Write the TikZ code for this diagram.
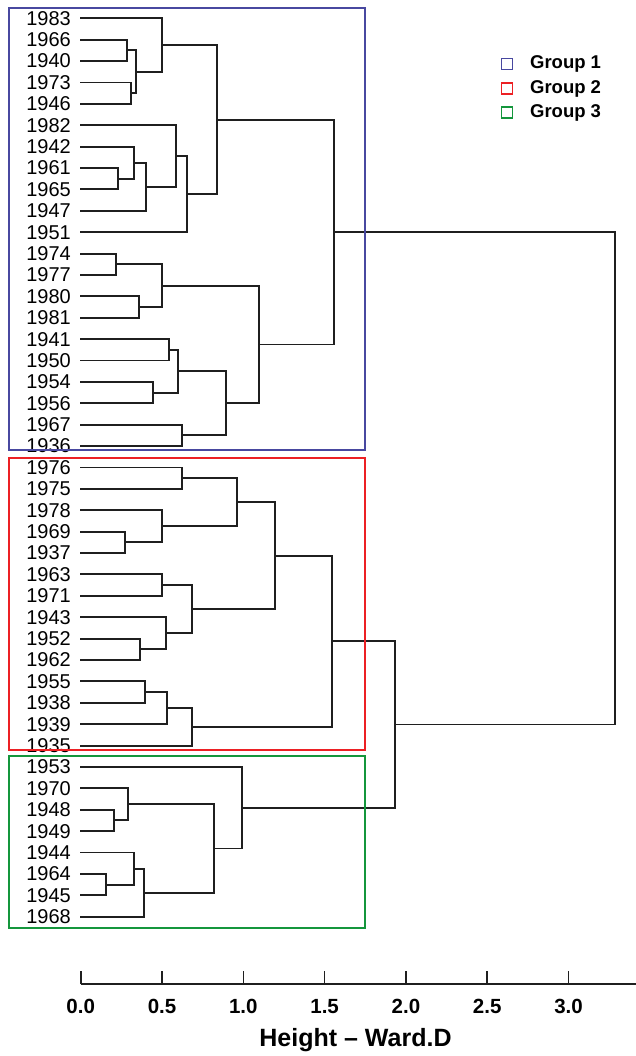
\documentclass[tikz,border=0pt]{standalone}
\usepackage{fontspec}
\setmainfont{Liberation Sans}
\usetikzlibrary{calc,positioning}

\definecolor{groupblue}{RGB}{72,72,160}
\definecolor{groupred}{RGB}{236,32,36}
\definecolor{groupgreen}{RGB}{20,150,60}

\tikzset{
  leaf/.style={anchor=east, inner xsep=9pt, inner ysep=0pt, font=\fontsize{20}{24}\selectfont},
  branch/.style={draw=black!88, line width=1.9pt},
  groupbox/.style={line width=2pt},
  legendkey/.style={draw, line width=1.4pt, minimum size=11pt, inner sep=0pt},
  legendtext/.style={anchor=west, inner sep=0pt, font=\fontsize{18.5}{22}\selectfont\bfseries},
  ticklabel/.style={inner sep=0pt, font=\fontsize{20.5}{24}\selectfont\bfseries},
  axistitle/.style={inner sep=0pt, font=\fontsize{25}{29}\selectfont\bfseries},
  axisline/.style={draw=black!88, line width=1.6pt},
}

% height -> x position
\newcommand\hx[1]{80.7+162.6*#1}
% leaf index -> y position
\newcommand\ly[1]{18.3+21.39*#1}
% join two clusters at a height
\newcommand\merge[4]{%
  \coordinate (#1mid) at ($(#2)!0.5!(#3)$);
  \coordinate (#1hgt) at ({\hx{#4}},0);
  \coordinate (#1) at (#1mid -| #1hgt);
  \draw[branch] (#2) -| (#1) |- (#3);}

\begin{document}
\begin{tikzpicture}[x=1pt, y=-1pt]
  \useasboundingbox (0,0) rectangle (636,1056);
  % Leaves
  \foreach \yr [count=\i from 0] in {1983,1966,1940,1973,1946,1982,1942,1961,1965,1947,1951,
      1974,1977,1980,1981,1941,1950,1954,1956,1967,1936,
      1976,1975,1978,1969,1937,1963,1971,1943,1952,1962,1955,1938,1939,1935,
      1953,1970,1948,1949,1944,1964,1945,1968}
    \node[leaf] (l\yr) at (80,{\ly{\i}}) {\yr};
  % Group 1
  \merge{a1}{l1966}{l1940}{0.287}
  \merge{a2}{l1973}{l1946}{0.307}
  \merge{a3}{a1}{a2}{0.338}
  \merge{a4}{l1983}{a3}{0.502}
  \merge{a5}{l1961}{l1965}{0.231}
  \merge{a6}{l1942}{a5}{0.328}
  \merge{a7}{a6}{l1947}{0.402}
  \merge{a8}{l1982}{a7}{0.586}
  \merge{a9}{a8}{l1951}{0.656}
  \merge{a10}{a4}{a9}{0.840}
  \merge{b1}{l1974}{l1977}{0.215}
  \merge{b2}{l1980}{l1981}{0.359}
  \merge{b3}{b1}{b2}{0.502}
  \merge{b4}{l1941}{l1950}{0.543}
  \merge{b5}{l1954}{l1956}{0.447}
  \merge{b6}{b4}{b5}{0.597}
  \merge{b7}{l1967}{l1936}{0.621}
  \merge{b8}{b6}{b7}{0.892}
  \merge{b9}{b3}{b8}{1.098}
  \merge{g1}{a10}{b9}{1.560}
  % Group 2
  \merge{c1}{l1976}{l1975}{0.625}
  \merge{c2}{l1969}{l1937}{0.272}
  \merge{c3}{l1978}{c2}{0.502}
  \merge{c4}{c1}{c3}{0.963}
  \merge{c5}{l1963}{l1971}{0.502}
  \merge{c6}{l1952}{l1962}{0.365}
  \merge{c7}{l1943}{c6}{0.523}
  \merge{c8}{c5}{c7}{0.686}
  \merge{c9}{c4}{c8}{1.195}
  \merge{d1}{l1955}{l1938}{0.395}
  \merge{d2}{d1}{l1939}{0.529}
  \merge{d3}{d2}{l1935}{0.686}
  \merge{g2}{c9}{d3}{1.544}
  % Group 3
  \merge{e1}{l1948}{l1949}{0.205}
  \merge{e2}{l1970}{e1}{0.289}
  \merge{e3}{l1964}{l1945}{0.156}
  \merge{e4}{l1944}{e3}{0.330}
  \merge{e5}{e4}{l1968}{0.389}
  \merge{e6}{e2}{e5}{0.820}
  \merge{g3}{l1953}{e6}{0.994}
  % Top
  \merge{g23}{g2}{g3}{1.933}
  \merge{root}{g1}{g23}{3.286}
  % Group boxes
  \draw[groupbox, groupblue] (9.3,8.3) rectangle (365,450);
  \draw[groupbox, groupred] (9.3,458.3) rectangle (365,750);
  \draw[groupbox, groupgreen] (9.3,756) rectangle (365,927.7);
  % Legend
  \node[legendkey, draw=groupblue] (key1) at (506.7,64) {};
  \node[legendkey, draw=groupred] (key2) at (506.7,88.5) {};
  \node[legendkey, draw=groupgreen] (key3) at (506.7,112.5) {};
  \node[legendtext, right=17pt of key1] (group1) {Group 1};
  \node[legendtext, right=17pt of key2] (group2) {Group 2};
  \node[legendtext, right=17pt of key3] (group3) {Group 3};
  % Axis
  \coordinate (axisstart) at (80.7,984);
  \coordinate (axisend) at (636,984);
  \draw[axisline] (axisstart) -- (axisend);
  \foreach \t/\lab [count=\k] in {0/0.0,0.5/0.5,1/1.0,1.5/1.5,2/2.0,2.5/2.5,3/3.0} {
    \coordinate (tick\k) at ({\hx{\t}},984);
    \coordinate (tickend\k) at ({\hx{\t}},971);
    \draw[axisline] (tick\k) -- (tickend\k);
    \node[ticklabel] (ticklab\k) at ({\hx{\t}},1006.7) {\lab};
  }
  \node[axistitle] (xtitle) at (355.5,1040) {Height – Ward.D};
\end{tikzpicture}
\end{document}
